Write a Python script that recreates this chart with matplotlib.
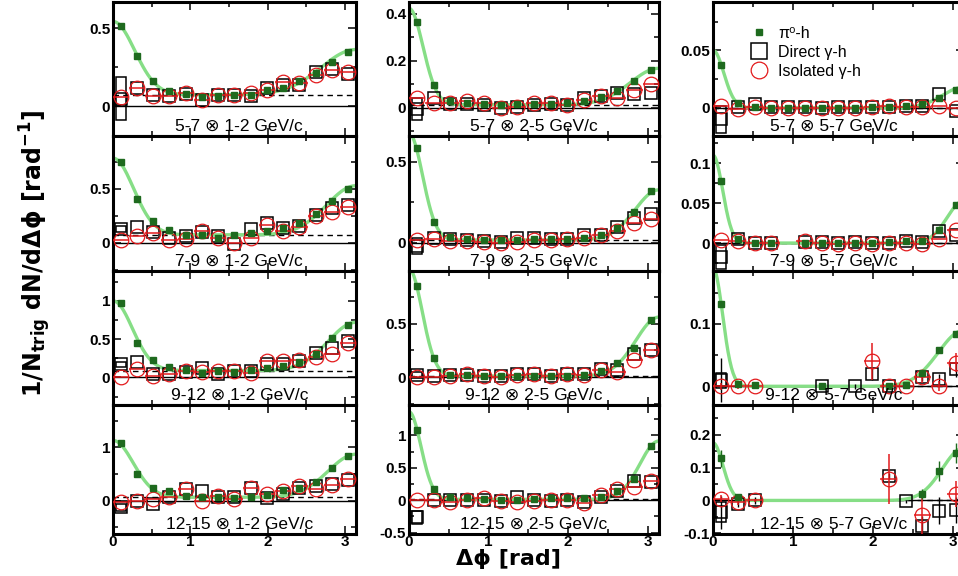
import numpy as np
import matplotlib
matplotlib.use('Agg')
import matplotlib.pyplot as plt
from matplotlib.lines import Line2D
from matplotlib.patches import Rectangle
from matplotlib.ticker import MultipleLocator, FormatStrFormatter

plt.rcParams['mathtext.fontset'] = 'dejavusans'
nan = np.nan

# bin centres in delta phi (rad)
dphi = [0.10, 0.31, 0.52, 0.73, 0.94, 1.15, 1.36, 1.57, 1.78, 1.99, 2.20, 2.41, 2.62, 2.83, 3.04]
half_bin = 0.105

trig_bins = ['5-7', '7-9', '9-12', '12-15']
assoc_bins = ['1-2', '2-5', '5-7']

# fit params: pedestal, near amp, near sigma, away amp, away sigma
# 5-7 GeV/c trigger
pi0_57_12 = [0.515, 0.325, 0.162, 0.100, 0.078, 0.060, 0.065, 0.070, 0.075, 0.104, 0.120, 0.162, 0.216, 0.288, 0.350]
dir_57_12 = [0.050, 0.120, 0.070, 0.065, 0.080, 0.040, 0.070, 0.075, 0.065, 0.120, 0.135, 0.140, 0.220, 0.240, 0.210]
iso_57_12 = [0.058, 0.115, 0.065, 0.065, 0.085, 0.040, 0.070, 0.070, 0.085, 0.108, 0.158, 0.148, 0.200, 0.235, 0.220]
fit_57_12 = [0.075, 0.47, 0.28, 0.29, 0.45]

pi0_57_25 = [0.364, 0.095, 0.030, 0.020, 0.015, 0.010, 0.015, 0.018, 0.015, 0.020, 0.030, 0.047, 0.070, 0.112, 0.162]
dir_57_25 = [-0.005, 0.040, 0.015, 0.015, 0.010, 0.000, 0.005, 0.010, 0.015, 0.010, 0.040, 0.050, 0.065, 0.060, 0.065]
iso_57_25 = [0.040, 0.020, 0.020, 0.030, 0.020, 0.000, 0.005, 0.020, 0.020, 0.010, 0.035, 0.050, 0.040, 0.077, 0.100]
fit_57_25 = [0.013, 0.41, 0.175, 0.155, 0.36]

pi0_57_57 = [0.037, 0.004, 0.001, 0.000, 0.000, 0.000, 0.000, 0.000, 0.000, 0.0006, 0.001, 0.002, 0.003, 0.0085, 0.0155]
dir_57_57 = [-0.010, 0.001, 0.003, 0.001, 0.001, 0.001, 0.000, 0.001, 0.001, 0.001, 0.001, 0.002, 0.002, 0.012, -0.003]
iso_57_57 = [0.002, -0.001, 0.001, 0.000, 0.000, 0.000, 0.000, 0.000, 0.000, 0.001, 0.002, 0.001, 0.001, 0.002, 0.000]
fit_57_57 = [0.0, 0.05, 0.135, 0.018, 0.27]

# 7-9 GeV/c trigger
pi0_79_12 = [0.75, 0.405, 0.20, 0.12, 0.072, 0.072, 0.050, 0.070, 0.088, 0.107, 0.135, 0.180, 0.270, 0.387, 0.50]
dir_79_12 = [0.13, 0.145, 0.10, 0.05, 0.065, 0.10, 0.06, -0.01, 0.13, 0.18, 0.135, 0.16, 0.26, 0.32, 0.35]
iso_79_12 = [0.025, 0.066, 0.09, 0.025, 0.035, 0.113, 0.05, -0.005, 0.045, 0.167, 0.113, 0.145, 0.25, 0.285, 0.33]
fit_79_12 = [0.075, 0.71, 0.265, 0.455, 0.38]

pi0_79_25 = [0.585, 0.127, 0.033, 0.020, 0.015, 0.015, 0.015, 0.020, 0.020, 0.024, 0.030, 0.050, 0.090, 0.190, 0.320]
dir_79_25 = [-0.02, 0.03, 0.02, 0.015, 0.01, 0.005, 0.03, 0.03, 0.025, 0.025, 0.05, 0.05, 0.10, 0.155, 0.18]
iso_79_25 = [0.015, 0.02, 0.01, 0.01, 0.005, 0.0, 0.005, 0.015, 0.015, 0.02, 0.03, 0.05, 0.07, 0.12, 0.145]
fit_79_25 = [0.017, 0.66, 0.17, 0.31, 0.30]

pi0_79_57 = [0.078, 0.0047, 0.0, 0.0, nan, 0.0, 0.0, 0.0, 0.0, 0.0, 0.001, 0.002, 0.002, 0.016, 0.048]
dir_79_57 = [-0.017, 0.005, 0.0, 0.0, nan, 0.001, 0.001, 0.0, 0.001, 0.0, 0.0, 0.002, 0.001, 0.015, 0.010]
iso_79_57 = [0.004, 0.003, 0.0, 0.0, nan, 0.002, 0.0, -0.001, 0.0, -0.001, 0.0, 0.0, -0.001, 0.005, 0.016]
fit_79_57 = [0.0, 0.11, 0.12, 0.053, 0.21]

# 9-12 GeV/c trigger
pi0_912_12 = [0.97, 0.456, 0.228, 0.14, 0.092, 0.06, 0.08, 0.07, 0.092, 0.127, 0.15, 0.20, 0.31, 0.52, 0.68]
dir_912_12 = [0.17, 0.20, 0.04, 0.045, 0.07, 0.12, 0.04, 0.08, 0.08, 0.17, 0.18, 0.21, 0.32, 0.39, 0.47]
iso_912_12 = [0.0, 0.11, 0.02, 0.04, 0.08, 0.07, 0.08, 0.09, 0.06, 0.21, 0.21, 0.23, 0.27, 0.30, 0.45]
fit_912_12 = [0.09, 0.91, 0.25, 0.63, 0.36]

pi0_912_25 = [0.85, 0.176, 0.02, 0.02, 0.01, 0.01, 0.015, 0.015, 0.01, 0.01, 0.02, 0.06, 0.135, 0.27, 0.53]
dir_912_25 = [0.02, 0.01, 0.02, 0.02, 0.01, 0.01, 0.03, 0.03, 0.01, 0.03, 0.03, 0.08, 0.065, 0.22, 0.255]
iso_912_25 = [0.0, 0.0, 0.01, 0.025, 0.01, 0.005, 0.02, 0.03, 0.015, 0.025, 0.02, 0.07, 0.045, 0.16, 0.255]
fit_912_25 = [0.01, 1.0, 0.165, 0.55, 0.29]

pi0_912_57 = [0.132, 0.003, 0.002, nan, nan, nan, 0.001, nan, nan, nan, 0.0, 0.002, 0.022, 0.058, 0.084]
dir_912_57 = [0.01, nan, nan, nan, nan, nan, 0.0, nan, 0.0, 0.02, 0.0, nan, 0.015, 0.011, 0.027]
iso_912_57 = [0.0, 0.0, 0.0, nan, nan, nan, nan, nan, nan, 0.04, 0.0, 0.0, 0.015, 0.0, 0.038]
fit_912_57 = [0.0, 0.19, 0.12, 0.09, 0.32]
dir_err_912_57 = [0.035, 0, 0, 0, 0, 0, 0.004, 0, 0.004, 0.01, 0.004, 0, 0.006, 0.008, 0.012]
iso_err_912_57 = [0.006, 0.004, 0.004, 0, 0, 0, 0, 0, 0, 0.03, 0.004, 0.004, 0.01, 0.008, 0.015]

# 12-15 GeV/c trigger
pi0_1215_12 = [1.09, 0.50, 0.244, 0.18, 0.09, 0.064, 0.064, 0.05, 0.064, 0.11, 0.19, 0.244, 0.35, 0.61, 0.83]
dir_1215_12 = [-0.13, 0.0, -0.06, 0.06, 0.22, 0.18, 0.06, 0.06, 0.24, 0.05, 0.12, 0.24, 0.28, 0.32, 0.38]
iso_1215_12 = [-0.02, 0.0, 0.02, 0.06, 0.22, 0.0, 0.09, 0.02, 0.24, 0.13, 0.18, 0.27, 0.22, 0.30, 0.40]
fit_1215_12 = [0.063, 1.07, 0.26, 0.81, 0.36]

pi0_1215_25 = [1.09, 0.18, 0.05, 0.03, 0.02, 0.01, 0.01, 0.02, 0.04, 0.03, 0.04, 0.05, 0.146, 0.33, 0.84]
dir_1215_25 = [-0.26, 0.0, 0.0, 0.0, 0.01, -0.01, 0.05, 0.0, -0.01, 0.0, -0.02, 0.05, 0.15, 0.29, 0.28]
iso_1215_25 = [0.0, 0.0, -0.02, 0.0, 0.04, -0.01, -0.03, -0.01, 0.0, 0.0, -0.04, 0.08, 0.17, 0.20, 0.30]
fit_1215_25 = [0.015, 1.35, 0.15, 0.9, 0.24]

pi0_1215_57 = [0.128, 0.01, nan, nan, nan, nan, nan, nan, nan, nan, nan, nan, 0.02, 0.09, 0.144]
dir_1215_57 = [-0.036, -0.01, 0.0, nan, nan, nan, nan, nan, nan, nan, 0.074, -0.003, -0.077, -0.031, -0.03]
iso_1215_57 = [0.005, -0.005, 0.0, nan, nan, nan, nan, nan, nan, nan, 0.065, nan, -0.043, nan, 0.02]
fit_1215_57 = [0.0, 0.175, 0.125, 0.16, 0.27]
pi0_err_1215_57 = [0.025, 0.01, 0, 0, 0, 0, 0, 0, 0, 0, 0, 0, 0.015, 0.03, 0.03]
dir_err_1215_57 = [0.05, 0.01, 0.01, 0, 0, 0, 0, 0, 0, 0, 0.01, 0.005, 0.03, 0.04, 0.04]
iso_err_1215_57 = [0.01, 0.01, 0.005, 0, 0, 0, 0, 0, 0, 0, 0.075, 0, 0.06, 0, 0.04]

# systematic box (half height) on the first direct-photon bin, row by row
dir_box = [[0.14, 0.045, 0.012],
           [0.03, 0.05, 0.015],
           [0.03, 0.03, 0.012],
           [0.07, 0.10, 0.03]]

panels = [[(pi0_57_12, dir_57_12, iso_57_12, fit_57_12, None, None, None),
           (pi0_57_25, dir_57_25, iso_57_25, fit_57_25, None, None, None),
           (pi0_57_57, dir_57_57, iso_57_57, fit_57_57, None, None, None)],
          [(pi0_79_12, dir_79_12, iso_79_12, fit_79_12, None, None, None),
           (pi0_79_25, dir_79_25, iso_79_25, fit_79_25, None, None, None),
           (pi0_79_57, dir_79_57, iso_79_57, fit_79_57, None, None, None)],
          [(pi0_912_12, dir_912_12, iso_912_12, fit_912_12, None, None, None),
           (pi0_912_25, dir_912_25, iso_912_25, fit_912_25, None, None, None),
           (pi0_912_57, dir_912_57, iso_912_57, fit_912_57, None, dir_err_912_57, iso_err_912_57)],
          [(pi0_1215_12, dir_1215_12, iso_1215_12, fit_1215_12, None, None, None),
           (pi0_1215_25, dir_1215_25, iso_1215_25, fit_1215_25, None, None, None),
           (pi0_1215_57, dir_1215_57, iso_1215_57, fit_1215_57, pi0_err_1215_57, dir_err_1215_57, iso_err_1215_57)]]

ylims = [[(-0.19, 0.67), (-0.12, 0.45), (-0.0245, 0.092)],
         [(-0.26, 0.99), (-0.175, 0.66), (-0.035, 0.134)],
         [(-0.36, 1.39), (-0.26, 0.99), (-0.03, 0.185)],
         [(-0.63, 1.8), (-0.52, 1.47), (-0.102, 0.29)]]
ysteps = [[(0.5, 0.25), (0.2, 0.1), (0.05, 0.025)],
          [(0.5, 0.25), (0.5, 0.25), (0.05, 0.025)],
          [(0.5, 0.25), (0.5, 0.25), (0.1, 0.05)],
          [(1.0, 0.5), (0.5, 0.25), (0.1, 0.05)]]

GREEN = '#1e6a1e'
FITGREEN = '#86de86'
RED = '#e31a1c'
W, H = 958., 576.
col_left = [113, 409, 713]
col_w = [243, 250, 251]
row_top = [2, 136, 271, 405]
row_h = [134, 135, 134, 129]
label_x = [0.52, 0.5, 0.48]
txtfam = ['Liberation Sans', 'DejaVu Sans']


def fit_curve(p, x):
    ped, an, sn, aa, sa = p
    return ped + an * np.exp(-x**2 / (2 * sn**2)) + aa * np.exp(-(x - np.pi)**2 / (2 * sa**2))


def draw_panel(ax, r, c):
    pi0, dgam, igam, fit, pi0_err, dir_err, iso_err = panels[r][c]
    x = np.array(dphi)
    ped = fit[0]
    ax.axhline(0, color='k', lw=1.0, zorder=1)
    ax.axhline(ped, color='k', lw=1.0, ls=(0, (4, 3)), zorder=1)
    xs = np.linspace(0, np.pi, 300)
    ax.plot(xs, fit_curve(fit, xs), color=FITGREEN, lw=2.4, zorder=2)

    # systematic box on first direct photon point
    bh = dir_box[r][c]
    ax.add_patch(Rectangle((x[0] - 0.065, dgam[0] - bh), 0.13, 2 * bh, fill=False,
                           ec='k', lw=1.1, zorder=3))
    ax.errorbar(x, dgam, yerr=dir_err, fmt='s', ms=9, mfc='none', mec='k', mew=1.1,
                ecolor='k', elinewidth=1.0, capsize=0, zorder=4)
    ax.errorbar(x, igam, yerr=iso_err, xerr=half_bin, fmt='o', ms=10.5, mfc='none', mec=RED,
                mew=0.9, ecolor=RED, elinewidth=1.1, capsize=0, zorder=5)
    ax.errorbar(x, pi0, yerr=pi0_err, fmt='s', ms=5, color=GREEN, ecolor=GREEN,
                elinewidth=1.0, capsize=0, zorder=6)

    ax.set_xlim(0, np.pi)
    ax.set_ylim(*ylims[r][c])
    ax.xaxis.set_major_locator(MultipleLocator(1))
    ax.xaxis.set_minor_locator(MultipleLocator(0.5))
    ax.yaxis.set_major_locator(MultipleLocator(ysteps[r][c][0]))
    ax.yaxis.set_minor_locator(MultipleLocator(ysteps[r][c][1]))
    ax.yaxis.set_major_formatter(FormatStrFormatter('%g'))
    ax.xaxis.set_major_formatter(FormatStrFormatter('%g'))
    ax.tick_params(which='both', direction='in', top=True, right=True, width=1.1)
    ax.tick_params(which='major', length=6)
    ax.tick_params(which='minor', length=3.5)
    ax.tick_params(axis='y', labelsize=11, pad=2)
    ax.tick_params(axis='x', labelsize=11, pad=1)
    for lab in ax.get_xticklabels() + ax.get_yticklabels():
        lab.set_fontweight('bold')
        lab.set_family('Liberation Sans')
    if r < 3:
        ax.tick_params(axis='x', labelbottom=False)
    for sp in ax.spines.values():
        sp.set_linewidth(2.2)
    ax.text(label_x[c], 0.075, '%s \u2297 %s GeV/c' % (trig_bins[r], assoc_bins[c]),
            transform=ax.transAxes, ha='center', va='center', fontsize=12.5,
            family=txtfam, zorder=10)


fig = plt.figure(figsize=(W / 100, H / 100), dpi=100)
axes = {}
for r in range(4):
    for c in range(3):
        ax = fig.add_axes([col_left[c] / W, 1 - (row_top[r] + row_h[r]) / H,
                           col_w[c] / W, row_h[r] / H])
        draw_panel(ax, r, c)
        axes[(r, c)] = ax

handles = [Line2D([], [], ls='none', marker='s', ms=5, color=GREEN),
           Line2D([], [], ls='none', marker='s', ms=11, mfc='none', mec='k', mew=1.1),
           Line2D([], [], ls='none', marker='o', ms=12, mfc='none', mec=RED, mew=0.9)]
axes[(0, 2)].legend(handles, ['\u03c0\u2070-h', 'Direct \u03b3-h', 'Isolated \u03b3-h'],
                    loc='upper left', bbox_to_anchor=(0.12, 0.87), frameon=False,
                    prop={'family': txtfam, 'size': 11.5}, labelspacing=0.25,
                    handletextpad=0.6, handlelength=1.2, borderaxespad=0)

ylabel = '1/N$_{\\mathbf{trig}}$ dN/d\u0394\u03d5 [rad$^{\\mathbf{-1}}$]'
fig.text(0.037, 0.56, ylabel, rotation=90, ha='center', va='center', fontsize=17,
         fontweight='bold', family='DejaVu Sans')
fig.text(508 / W, 1 - 559 / H, '\u0394\u03d5 [rad]', ha='center', va='center',
         fontsize=16, fontweight='bold', family='DejaVu Sans')

fig.savefig('out.png', dpi=100)
